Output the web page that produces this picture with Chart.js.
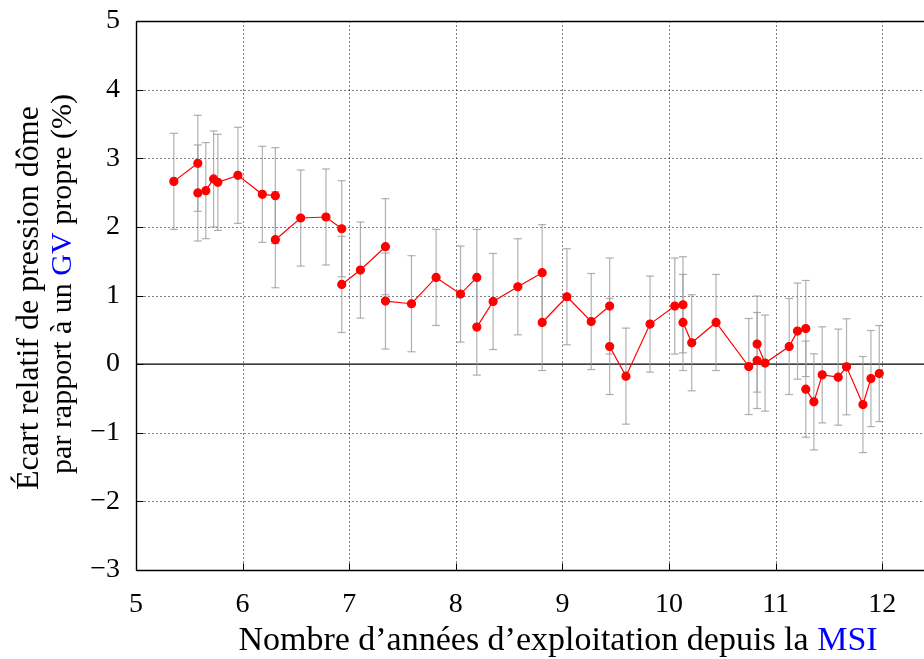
<!DOCTYPE html>
<html>
<head>
<meta charset="utf-8">
<title>Écart relatif de pression dôme</title>
<script src="https://cdn.jsdelivr.net/npm/chart.js@4.4.0/dist/chart.umd.min.js"></script>
<style>
    html, body { margin: 0; padding: 0; background: #fff; }
    #wrap { width: 924px; height: 659px; }
</style>
</head>
<body>
<div id="wrap"><canvas id="chart" width="924" height="659"></canvas></div>
<script>
    // années d'exploitation depuis la MSI
    const annees = [5.355, 5.580,
        5.580, 5.655, 5.728, 5.768, 5.956, 6.185, 6.307,
        6.307, 6.545, 6.782, 6.930,
        6.930, 7.105, 7.340,
        7.340, 7.584, 7.815, 8.044, 8.197,
        8.197, 8.350, 8.582, 8.810,
        8.810, 9.042, 9.270, 9.443,
        9.443, 9.596, 9.822, 10.054, 10.131,
        10.131, 10.213, 10.441, 10.748, 10.826,
        10.826, 10.901, 11.127, 11.205, 11.283,
        11.283, 11.359, 11.437, 11.587, 11.665, 11.819, 11.894, 11.972];
    // écart relatif de pression dôme (%)
    const ecarts = [2.663, 2.926,
        2.494, 2.528, 2.698, 2.649, 2.751, 2.474, 2.455,
        1.813, 2.129, 2.144, 1.973,
        1.161, 1.371, 1.711,
        0.919, 0.880, 1.263, 1.021, 1.263,
        0.540, 0.913, 1.127, 1.332,
        0.607, 0.982, 0.621, 0.846,
        0.257, -0.175, 0.583, 0.846, 0.865,
        0.607, 0.311, 0.607, -0.035, 0.053,
        0.292, 0.015, 0.257, 0.481, 0.519,
        -0.365, -0.550, -0.156, -0.190, -0.039, -0.589, -0.210, -0.137];
    const incertitudes = [0.7, 0.7,
        0.7, 0.7, 0.7, 0.7, 0.7, 0.7, 0.7,
        0.7, 0.7, 0.7, 0.7,
        0.7, 0.7, 0.7,
        0.7, 0.7, 0.7, 0.7, 0.7,
        0.7, 0.7, 0.7, 0.7,
        0.7, 0.7, 0.7, 0.7,
        0.7, 0.7, 0.7, 0.7, 0.7,
        0.7, 0.7, 0.7, 0.7, 0.7,
        0.7, 0.7, 0.7, 0.7, 0.7,
        0.7, 0.7, 0.7, 0.7, 0.7, 0.7, 0.7, 0.7];
    // indices où la ligne rouge recommence
    const debutsSegments = [2, 9, 13, 16, 21, 25, 29, 34, 39, 44];
    const ticksX = [5, 6, 7, 8, 9, 10, 11, 12];
    const ticksY = [-3, -2, -1, 0, 1, 2, 3, 4, 5];

    const police = '"Liberation Serif", "Times New Roman", serif';

    var points = [];
    for (var i = 0; i < annees.length; i++) {
        if (debutsSegments.includes(i)) points.push({x: annees[i], y: null});
        points.push({x: annees[i], y: ecarts[i]});
    }

    function trait(ctx, x1, y1, x2, y2) {
        ctx.beginPath();
        ctx.moveTo(x1, y1);
        ctx.lineTo(x2, y2);
        ctx.stroke();
    }

    function texteColore(ctx, morceaux, cx, cy) {
        var total = 0;
        for (var m of morceaux) total += ctx.measureText(m[0]).width;
        var pos = cx - total / 2;
        for (var m of morceaux) {
            ctx.fillStyle = m[1];
            ctx.fillText(m[0], pos, cy);
            pos += ctx.measureText(m[0]).width;
        }
    }

    const cadre = {
        id: 'cadre',
        beforeDatasetsDraw(chart) {
            const ctx = chart.ctx, a = chart.chartArea;
            const sx = chart.scales.x, sy = chart.scales.y;
            const L = Math.round(a.left) + 0.5, B = Math.round(a.bottom) + 0.5, T = Math.round(a.top) + 0.5;
            const R = chart.width; // le cadre continue jusqu'au bord de l'image
            ctx.save();
            // grille pointillée
            ctx.strokeStyle = '#000';
            ctx.lineWidth = 1;
            ctx.setLineDash([1, 3]);
            for (var v of ticksX) {
                if (v === 5) continue;
                var px = Math.round(sx.getPixelForValue(v)) + 0.5;
                trait(ctx, px, T, px, B);
            }
            for (var v of ticksY) {
                if (v === 5 || v === -3 || v === 0) continue;
                var py = Math.round(sy.getPixelForValue(v)) + 0.5;
                trait(ctx, L, py, R, py);
            }
            ctx.setLineDash([]);
            // ligne du zéro
            ctx.lineWidth = 1.4;
            var y0 = sy.getPixelForValue(0);
            trait(ctx, L, y0, R, y0);
            // cadre
            trait(ctx, L, T, R, T);
            trait(ctx, L, T, L, B);
            trait(ctx, L, B, R, B);
            // graduations intérieures
            ctx.lineWidth = 1;
            for (var v of ticksY) {
                var py = Math.round(sy.getPixelForValue(v)) + 0.5;
                trait(ctx, L, py, L + 7, py);
            }
            for (var v of ticksX) {
                var px = Math.round(sx.getPixelForValue(v)) + 0.5;
                trait(ctx, px, B, px, B - 7);
            }
            // barres d'erreur
            ctx.strokeStyle = 'rgba(150,150,150,0.75)';
            ctx.lineWidth = 1.2;
            for (var i = 0; i < annees.length; i++) {
                var px = sx.getPixelForValue(annees[i]);
                var yh = sy.getPixelForValue(ecarts[i] + incertitudes[i]);
                var yb = sy.getPixelForValue(ecarts[i] - incertitudes[i]);
                trait(ctx, px, yh, px, yb);
                trait(ctx, px - 4, yh, px + 4, yh);
                trait(ctx, px - 4, yb, px + 4, yb);
            }
            ctx.restore();
        },
        afterDraw(chart) {
            const ctx = chart.ctx;
            ctx.save();
            ctx.textBaseline = 'alphabetic';
            ctx.textAlign = 'left';
            ctx.font = '34px ' + police;
            texteColore(ctx, [['Nombre d\u2019années d\u2019exploitation depuis la ', '#000'], ['MSI', '#0000ff']], 558, 650);
            ctx.save();
            ctx.translate(30, 298);
            ctx.rotate(-Math.PI / 2);
            ctx.textBaseline = 'middle';
            ctx.font = '32px ' + police;
            texteColore(ctx, [['Écart relatif de pression dôme', '#000']], 0, 0);
            ctx.restore();
            ctx.save();
            ctx.translate(63, 284);
            ctx.rotate(-Math.PI / 2);
            ctx.textBaseline = 'middle';
            ctx.font = '30px ' + police;
            texteColore(ctx, [['par rapport à un ', '#000'], ['GV', '#0000ff'], [' propre (%)', '#000']], 0, 0);
            ctx.restore();
            ctx.restore();
        }
    };

    const ctx = document.getElementById('chart');
    const chart = new Chart(ctx, {
        type: 'line',
        data: {
            datasets: [{
                label: 'Écart relatif',
                data: points,
                borderColor: '#ff0000',
                borderWidth: 1.2,
                backgroundColor: '#ff0000',
                pointBackgroundColor: '#ff0000',
                pointBorderColor: '#ff0000',
                pointRadius: 4,
                tension: 0,
                spanGaps: false
            }]
        },
        options: {
            responsive: false,
            animation: false,
            layout: { padding: { top: 21, left: 0, right: 0, bottom: 0 } },
            plugins: { legend: { display: false }, tooltip: { enabled: false } },
            scales: {
                x: {
                    type: 'linear',
                    min: 5,
                    max: 12.343,
                    grid: { display: false, drawTicks: false },
                    border: { display: false },
                    ticks: {
                        stepSize: 1,
                        includeBounds: false,
                        maxRotation: 0,
                        padding: 18,
                        color: '#000',
                        font: { family: police, size: 28 }
                    },
                    afterFit: (s) => { s.height = 89; s.paddingLeft = 0; s.paddingRight = 0; }
                },
                y: {
                    type: 'linear',
                    min: -3,
                    max: 5,
                    grid: { display: false, drawTicks: false },
                    border: { display: false },
                    ticks: {
                        stepSize: 1,
                        padding: 16,
                        color: '#000',
                        font: { family: police, size: 28 },
                        callback: (v) => v < 0 ? '\u2212' + Math.abs(v) : '' + v
                    },
                    afterFit: (s) => { s.width = 136; s.paddingTop = 0; s.paddingBottom = 0; }
                }
            }
        },
        plugins: [cadre]
    });
</script>
</body>
</html>
